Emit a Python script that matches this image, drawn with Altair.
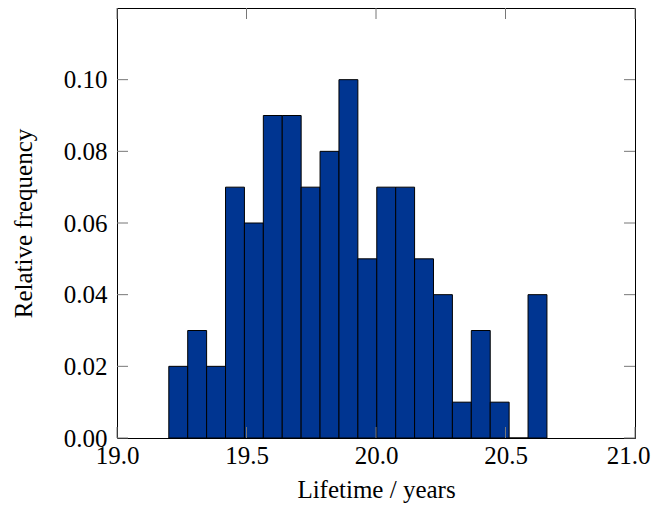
import altair as alt
import pandas as pd

# Histogram bins (left and right edges) and relative frequencies
bin_start = [19.200, 19.273, 19.346, 19.419, 19.492, 19.565, 19.638, 19.711, 19.784, 19.857,
             19.930, 20.003, 20.076, 20.149, 20.222, 20.295, 20.368, 20.441, 20.514, 20.587]
bin_end = [19.273, 19.346, 19.419, 19.492, 19.565, 19.638, 19.711, 19.784, 19.857, 19.930,
           20.003, 20.076, 20.149, 20.222, 20.295, 20.368, 20.441, 20.514, 20.587, 20.660]
rel_freq = [0.02, 0.03, 0.02, 0.07, 0.06, 0.09, 0.09, 0.07, 0.08, 0.10,
            0.05, 0.07, 0.07, 0.05, 0.04, 0.01, 0.03, 0.01, 0.00, 0.04]

x_ticks = [19.0, 19.5, 20.0, 20.5, 21.0]
y_ticks = [0.00, 0.02, 0.04, 0.06, 0.08, 0.10]

W, H = 518, 430
FONT = "Liberation Serif"
BAR = "#003591"
TICK = "#777777"
TL = 11

bars_df = pd.DataFrame({"start": bin_start, "end": bin_end, "freq": rel_freq})
xt_df = pd.DataFrame({"v": x_ticks})
yt_df = pd.DataFrame({"v": y_ticks})

xscale = alt.Scale(domain=[19.0, 21.0], nice=False, zero=False)
yscale = alt.Scale(domain=[0, 0.12], nice=False)

xaxis = alt.Axis(values=x_ticks, format=".1f", title="Lifetime / years", grid=False,
                 domain=False, ticks=False, labelFont=FONT, labelFontSize=25,
                 labelColor="black", labelPadding=5, titleFont=FONT, titleFontSize=25,
                 titleFontWeight="normal", titleColor="black", titlePadding=9,
                 labelFlush=False,
                 labelOffset={"condition": {"test": "datum.value >= 20.99", "value": -7},
                              "value": 0})
yaxis = alt.Axis(values=y_ticks, format=".2f", title="Relative frequency", grid=False,
                 domain=False, ticks=False, labelFont=FONT, labelFontSize=25,
                 labelColor="black", labelPadding=10, titleFont=FONT, titleFontSize=25,
                 titleFontWeight="normal", titleColor="black", titlePadding=27,
                 labelFlush=False)

bars = alt.Chart(bars_df).mark_rect(color=BAR, stroke="black", strokeWidth=1).encode(
    x=alt.X("start:Q", scale=xscale, axis=xaxis),
    x2="end:Q",
    y=alt.Y("freq:Q", scale=yscale, axis=yaxis),
    y2=alt.datum(0),
)

xt_bottom = alt.Chart(xt_df).mark_rule(color=TICK, strokeWidth=1).encode(
    x=alt.X("v:Q", scale=xscale, axis=xaxis), y=alt.value(H), y2=alt.value(H - TL))
xt_top = alt.Chart(xt_df).mark_rule(color=TICK, strokeWidth=1).encode(
    x=alt.X("v:Q", scale=xscale, axis=xaxis), y=alt.value(0), y2=alt.value(TL))
yt_left = alt.Chart(yt_df).mark_rule(color=TICK, strokeWidth=1).encode(
    y=alt.Y("v:Q", scale=yscale, axis=yaxis), x=alt.value(0), x2=alt.value(TL))
yt_right = alt.Chart(yt_df).mark_rule(color=TICK, strokeWidth=1).encode(
    y=alt.Y("v:Q", scale=yscale, axis=yaxis), x=alt.value(W), x2=alt.value(W - TL))

chart = alt.layer(bars, xt_bottom, xt_top, yt_left, yt_right).properties(
    width=W, height=H,
    background="white",
    autosize=alt.AutoSizeParams(type="none"),
    padding={"left": 109, "top": 0, "right": 16, "bottom": 66},
).configure_view(stroke="black", strokeWidth=1)

chart.save("out.html", embed_options={"renderer": "svg", "actions": False})
